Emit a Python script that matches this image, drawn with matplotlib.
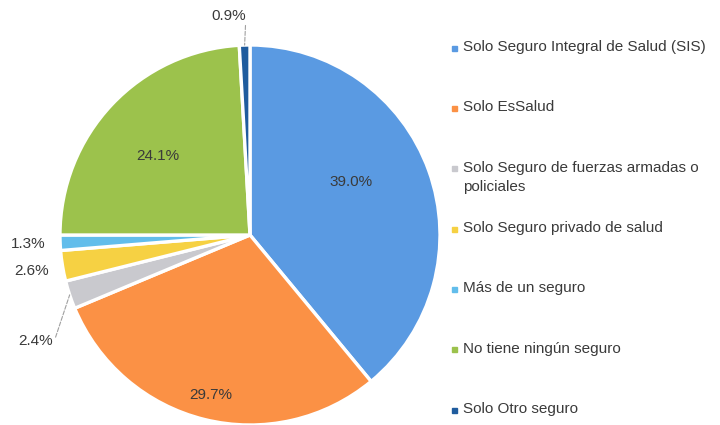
import numpy as np
import matplotlib
matplotlib.use('Agg')
from matplotlib import pyplot as plt

labels = ['Solo Seguro Integral de Salud (SIS)',
          'Solo EsSalud',
          'Solo Seguro de fuerzas armadas o\npoliciales',
          'Solo Seguro privado de salud',
          'Más de un seguro',
          'No tiene ningún seguro',
          'Solo Otro seguro']
values = [39.0, 29.7, 2.4, 2.6, 1.3, 24.1, 0.9]
colors = ['#5A9AE2', '#FB9145', '#C9C9CE', '#F6D143', '#62BDEB', '#9CC24C', '#1F5C9E']

plt.rcParams['font.family'] = ['Liberation Sans', 'DejaVu Sans']
txt_color = '#3a3a3a'

fig = plt.figure(figsize=(7.2, 4.25), dpi=100)
ax = fig.add_axes([60 / 720, 0, 380 / 720, 380 / 425])
wedges, _ = ax.pie(values, colors=colors, startangle=90, counterclock=False,
                   wedgeprops=dict(edgecolor='white', linewidth=2.4))
ax.set_xlim(-1, 1)
ax.set_ylim(-1, 1)
ax.set_aspect('equal')
ax.axis('off')

# label distance / angle nudge per slice
dist = [0.6, 0.87, 1.26, 1.165, 1.17, 0.64, 1.16]
nudge = [8, 0, 8, 0, 0, 3, 4]
for i, w in enumerate(wedges):
    mid = (w.theta1 + w.theta2) / 2
    a = np.deg2rad(mid + nudge[i])
    x, y = dist[i] * np.cos(a), dist[i] * np.sin(a)
    s = f'{values[i]:.1f}%'
    if i in (2, 6):
        m = np.deg2rad(mid)
        ax.annotate(s, xy=(np.cos(m), np.sin(m)), xytext=(x, y),
                    ha='center', va='center', fontsize=11, color=txt_color,
                    arrowprops=dict(arrowstyle='-', color='#a0a0a0', lw=0.8,
                                    linestyle='--', shrinkA=0, shrinkB=0,
                                    relpos=(1, 0.2)))
    else:
        ax.text(x, y, s, ha='center', va='center', fontsize=11, color=txt_color)

# legend
rows = np.linspace(48, 410, len(labels))
for i, lab in enumerate(labels):
    yf = 1 - rows[i] / 425
    fig.patches.append(plt.Rectangle((452 / 720, yf - 2.5 / 425), 5 / 720, 5 / 425,
                                     transform=fig.transFigure, color=colors[i]))
    fig.text(463 / 720, yf + 8 / 425, lab, ha='left', va='top', fontsize=11,
             color=txt_color, linespacing=1.45)

fig.savefig('out.png', dpi=100)
